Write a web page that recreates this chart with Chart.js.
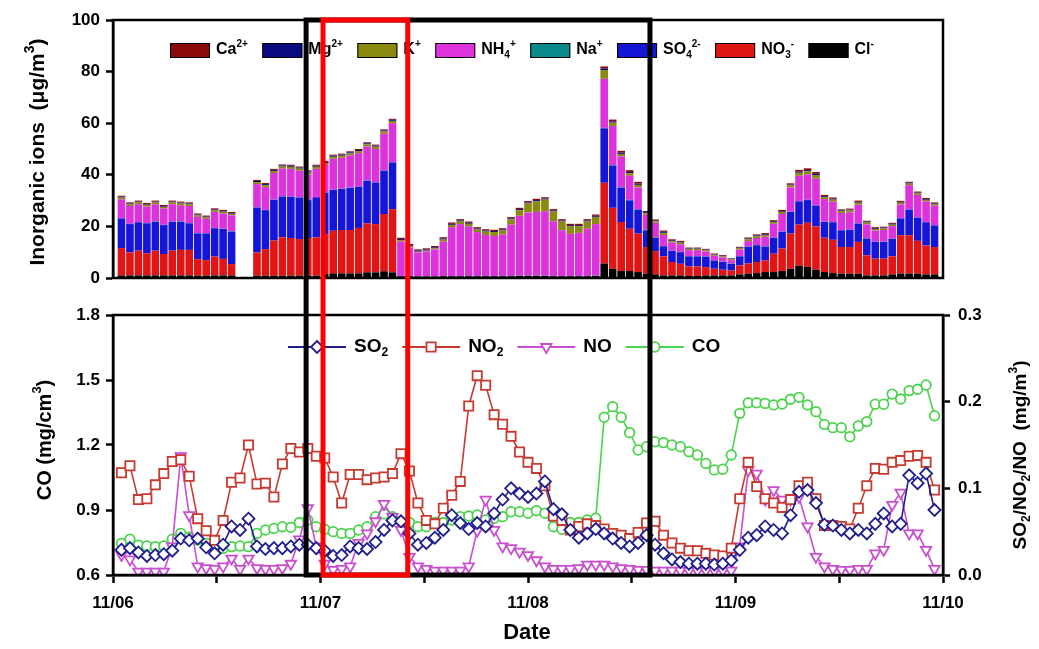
<!DOCTYPE html>
<html>
<head>
<meta charset="utf-8">
<script src="https://cdn.jsdelivr.net/npm/chart.js@4.4.0/dist/chart.umd.min.js"></script>
<style>
  html, body { margin: 0; padding: 0; background: #fff; }
  #wrap { position: relative; width: 1039px; height: 649px; }
  canvas { position: absolute; left: 0; }
  #ionChart { top: 0; }
  #gasChart { top: 296px; }
</style>
</head>
<body>
<div id="wrap">
  <canvas id="ionChart" width="1039" height="296"></canvas>
  <canvas id="gasChart" width="1039" height="353"></canvas>
</div>
<script>
// hourly samples, 11/06 00:00 .. 11/10 00:00
const dateLabels = ["11/06", "11/07", "11/08", "11/09", "11/10"];

// ions, stacked bottom -> top (ug/m3)
const ionLabels = ["Cl⁻", "NO₃⁻", "SO₄²⁻", "Na⁺", "NH₄⁺", "K⁺", "Mg²⁺", "Ca²⁺"];

const cl = [1.0,1.0,1.0,1.0,1.0,1.0,1.0,1.0,1.0,0.9,0.9,1.0,1.0,1.0, null,null,
  0.9,0.9,0.9,0.9,0.9,0.9,0.9,0.9,1.5,1.8,1.8,1.8,1.8,2.2,2.2,2.6,2.2,
  0.7,0.7,0.6,0.6,0.6,0.7,0.7,0.7,0.7,0.7,0.7,0.7,0.7,0.7,0.8,0.8,0.8,0.8,0.7,0.7,0.7,0.7,0.7,0.8,
  5.6,3.6,2.7,2.7,2.3,1.7,
  1.4,1.0,1.0,1.0,0.8,0.8,1.0,1.0,1.0,1.0,1.4,1.7,1.9,2.3,2.3,2.7,3.6,4.8,4.3,3.2,2.3,1.9,1.7,1.7,1.7,1.0,1.0,1.0,1.4,1.7,1.7,1.7,1.4,1.4];
const no3 = [10.6,8.9,9.6,8.6,9.6,8.3,9.6,9.9,9.9,6.4,6.0,7.3,6.4,4.4, null,null,
  9.0,10.3,13.6,14.9,14.6,14.2,14.6,14.9,15.5,16.5,16.8,16.8,17.6,19.0,18.7,22.2,24.5,
  0,0,0,0,0,0,0,0,0,0,0,0,0,0,0,0,0,0,0,0,0,0,0,0,
  31.3,23.6,19.0,16.4,14.9,10.3,
  9.0,7.4,5.2,4.5,3.7,3.7,3.2,2.6,2.2,1.9,3.5,3.9,4.3,4.5,7.1,8.7,13.6,15.9,17.1,16.8,13.3,12.9,10.3,10.3,12.3,7.8,6.5,6.5,7.0,14.9,14.9,12.7,11.2,10.6];
const so4 = [11.5,11.0,11.0,11.6,11.2,11.2,11.2,10.9,10.3,10.0,10.4,11.0,11.6,12.6, null,null,
  17.4,15.1,15.8,15.8,16.0,16.1,14.7,15.5,16.1,15.8,15.9,16.3,16.0,16.5,16.1,16.8,18.1,
  0,0,0,0,0,0,0,0,0,0,0,0,0,0,0,0,0,0,0,0,0,0,0,0,
  21.1,16.4,13.3,11.0,9.3,6.5,
  5.2,3.9,4.3,4.5,3.9,3.9,4.1,3.2,3.0,2.6,3.5,6.5,6.5,5.4,6.2,6.5,8.4,9.0,8.8,8.1,6.1,6.8,6.5,6.7,7.1,6.5,6.5,6.5,6.8,6.5,9.9,9.0,9.0,8.4];
const na = [0.1,0.1,0.1,0.1,0.1,0.1,0.1,0.1,0.1,0.1,0.1,0.1,0.1,0.1, null,null,
  0.1,0.1,0.1,0.1,0.1,0.1,0.1,0.1,0.1,0.1,0.1,0.1,0.1,0.1,0.1,0.1,0.1,
  0.1,0.1,0.1,0.1,0.1,0.1,0.1,0.1,0.1,0.1,0.1,0.1,0.1,0.1,0.1,0.1,0.1,0.1,0.1,0.1,0.1,0.1,0.1,0.1,
  0.2,0.2,0.2,0.2,0.2,0.2,
  0.1,0.1,0.1,0.1,0.1,0.1,0.1,0.1,0.1,0.1,0.1,0.1,0.1,0.1,0.1,0.1,0.1,0.1,0.1,0.1,0.1,0.1,0.1,0.1,0.1,0.1,0.1,0.1,0.1,0.1,0.1,0.1,0.1,0.1];
const nh4 = [7.3,6.9,6.9,6.4,6.7,6.3,6.7,6.3,6.6,6.3,5.5,6.2,5.9,6.2, null,null,
  9.0,8.8,10.3,10.7,10.7,10.3,9.8,10.9,10.6,12.0,12.0,12.5,12.9,13.2,12.9,14.2,15.1,
  13.4,11.1,9.2,9.6,10.4,13.3,18.9,20.1,19.2,17.0,15.9,15.5,16.1,19.9,23.2,24.5,24.7,25.0,21.2,17.7,16.3,16.7,18.3,20.0,
  19.0,15.1,11.9,9.3,8.4,5.8,
  5.7,4.3,3.1,3.0,2.3,2.3,1.9,1.7,1.7,1.3,2.6,2.1,2.7,3.7,5.3,6.8,9.4,9.8,9.9,10.3,8.8,7.9,6.6,6.7,7.2,5.4,4.3,4.5,4.8,5.3,9.4,8.7,8.0,7.6];
const k = [0.7,0.7,0.7,0.7,0.7,0.7,0.7,0.7,0.7,0.6,0.6,0.7,0.7,0.6, null,null,
  0.8,0.8,0.8,0.8,0.8,0.8,0.8,0.8,0.8,0.8,0.8,0.8,0.8,0.8,0.9,0.9,0.9,
  0.5,0.4,0.3,0.3,0.4,0.8,0.9,1.0,1.0,1.0,1.3,1.5,1.5,2.0,2.2,3.5,4.2,4.5,3.8,3.4,3.0,2.6,2.8,2.8,
  3.4,1.3,1.0,1.0,1.0,0.6,
  0.6,0.8,0.6,0.6,0.5,0.5,0.5,0.4,0.4,0.4,0.5,0.7,0.7,0.7,0.7,0.8,0.8,1.2,1.2,1.4,0.8,0.8,0.7,0.7,0.8,0.7,0.6,0.6,0.6,0.7,0.6,0.6,0.6,0.6];
const mg = [0.3,0.3,0.3,0.3,0.3,0.3,0.3,0.3,0.3,0.3,0.3,0.3,0.3,0.3, null,null,
  0.4,0.4,0.4,0.4,0.4,0.4,0.4,0.4,0.4,0.4,0.4,0.4,0.4,0.4,0.4,0.4,0.4,
  0.4,0.4,0.4,0.4,0.4,0.4,0.4,0.4,0.4,0.4,0.4,0.4,0.4,0.4,0.4,0.4,0.4,0.4,0.4,0.4,0.4,0.4,0.4,0.4,
  0.6,0.5,0.5,0.5,0.5,0.4,
  0.3,0.4,0.3,0.3,0.2,0.2,0.2,0.2,0.2,0.2,0.2,0.3,0.3,0.3,0.3,0.3,0.3,0.4,0.4,0.5,0.3,0.3,0.3,0.3,0.3,0.3,0.3,0.3,0.3,0.3,0.3,0.3,0.3,0.2];
const ca = [0.4,0.4,0.4,0.4,0.4,0.4,0.4,0.4,0.4,0.4,0.4,0.4,0.4,0.4, null,null,
  0.4,0.4,0.4,0.4,0.4,0.4,0.4,0.4,0.4,0.4,0.4,0.4,0.4,0.4,0.4,0.4,0.4,
  0.5,0.5,0.5,0.5,0.5,0.5,0.5,0.5,0.5,0.5,0.5,0.5,0.5,0.5,0.5,0.5,0.5,0.5,0.5,0.5,0.5,0.5,0.5,0.5,
  0.8,0.7,0.7,0.7,0.7,0.5,
  0.4,0.5,0.4,0.4,0.3,0.3,0.3,0.3,0.3,0.2,0.3,0.4,0.4,0.4,0.4,0.5,0.5,0.7,0.7,0.7,0.5,0.5,0.4,0.4,0.5,0.4,0.4,0.4,0.4,0.4,0.4,0.4,0.4,0.4];

// gases: SO2/NO2/NO in mg/m3 (right axis), CO in mg/cm3 (left axis)
const gasLabels = ["SO₂", "NO₂", "NO", "CO"];

const so2 = [0.029,0.031,0.026,0.022,0.023,0.024,0.028,0.042,0.040,0.042,0.032,0.025,0.035,0.056,0.052,0.065,0.033,0.030,0.031,0.031,0.033,0.035,0.035,0.031,0.028,0.022,0.023,0.033,0.031,0.030,0.038,0.052,0.063,0.062,0.048,0.035,
  0.037,0.043,0.052,0.069,0.060,0.053,0.060,0.056,0.071,0.087,0.100,0.094,0.090,0.094,0.108,0.076,0.070,0.052,0.043,0.048,0.053,0.048,0.042,0.037,0.033,0.037,0.046,0.035,0.025,0.018,0.015,0.013,0.013,0.013,0.012,0.013,0.017,
  0.029,0.043,0.046,0.056,0.052,0.048,0.069,0.096,0.098,0.083,0.058,0.057,0.052,0.048,0.052,0.048,0.059,0.071,0.056,0.059,0.115,0.106,0.117,0.075];
const no2 = [0.118,0.126,0.087,0.088,0.104,0.117,0.131,0.133,0.114,0.065,0.051,0.040,0.063,0.107,0.112,0.150,0.105,0.106,0.090,0.128,0.146,0.142,0.146,0.137,0.135,0.113,0.083,0.116,0.116,0.110,0.112,0.113,0.117,0.140,0.120,0.083,
  0.063,0.059,0.077,0.092,0.108,0.195,0.230,0.219,0.185,0.174,0.160,0.142,0.130,0.123,0.103,0.068,0.063,0.052,0.056,0.059,0.057,0.053,0.048,0.046,0.042,0.049,0.060,0.062,0.046,0.037,0.031,0.028,0.028,
  0.025,0.023,0.022,0.031,0.088,0.130,0.102,0.088,0.083,0.078,0.087,0.103,0.107,0.088,0.057,0.057,0.056,0.053,0.077,0.103,0.123,0.122,0.130,0.132,0.137,0.138,0.130,0.098];
const no = [0.023,0.018,0.004,0.004,0.004,0.004,0.033,0.137,0.069,0.010,0.008,0.007,0.010,0.019,0.007,0.019,0.008,0.007,0.007,0.008,0.013,0.041,0.077,0.033,0.013,0.006,0.007,0.010,0.037,0.048,0.062,0.082,0.067,0.052,0.021,0.010,
  0.007,0.005,0.005,0.005,0.005,0.010,0.051,0.087,0.052,0.033,0.031,0.027,0.023,0.017,0.010,0.007,0.007,0.007,0.008,0.012,0.012,0.012,0.010,0.008,0.007,0.006,0.006,0.005,0.005,0.005,0.005,0.005,0.005,0.005,0.005,0.005,0.005,
  0.033,0.121,0.117,0.087,0.098,0.087,0.087,0.090,0.056,0.021,0.010,0.007,0.006,0.006,0.007,0.007,0.025,0.029,0.081,0.095,0.048,0.048,0.029,0.007];
const co = [0.746,0.765,0.738,0.734,0.731,0.734,0.765,0.792,0.774,0.762,0.746,0.723,0.723,0.731,0.734,0.731,0.792,0.808,0.815,0.823,0.820,0.842,0.854,0.823,0.811,0.800,0.792,0.792,0.808,0.823,0.869,0.882,0.869,0.846,0.842,0.823,
  0.823,0.842,0.842,0.854,0.869,0.872,0.877,0.854,0.862,0.869,0.892,0.892,0.885,0.897,0.885,0.823,0.811,0.842,0.842,0.854,0.862,1.328,1.377,1.328,1.257,1.177,1.192,1.215,1.211,1.200,1.192,1.169,1.154,
  1.115,1.085,1.088,1.154,1.346,1.395,1.395,1.392,1.385,1.389,1.411,1.420,1.385,1.354,1.295,1.280,1.280,1.238,1.288,1.308,1.388,1.388,1.435,1.412,1.451,1.457,1.477,1.335];

const FONT = "'Liberation Sans', Arial, sans-serif";
Chart.defaults.font.family = FONT;
Chart.defaults.font.weight = "bold";
Chart.defaults.font.size = 17;
Chart.defaults.color = "#000";

const hours = cl.map((_, i) => i);
const toXY = arr => arr.map((v, i) => ({ x: hours[i], y: v }));

// x range in sample units; one day spans 24.5 samples in the original figure
const xMin = -1, xMax = 97, dayStart = -1, dayLength = 24.5;
const dayTicks = Array.from({ length: 9 }, (_, i) => dayStart + i * dayLength / 2);

// highlighted periods (sample units)
const boxes = [
    { from: 21.8, to: 62.4, color: "#000" },
    { from: 23.8, to: 33.8, color: "#ff0000" }
];

const SUP = { "²": "2", "³": "3", "⁺": "+", "⁻": "-" };
const SUB = { "₂": "2", "₃": "3", "₄": "4" };

// draws text with unicode sub/superscripts rendered as small shifted runs
function drawRich(ctx, text, x, y, size, align) {
    const runs = [];
    for (const ch of text) {
        const kind = SUP[ch] ? "sup" : SUB[ch] ? "sub" : "base";
        const s = SUP[ch] || SUB[ch] || ch;
        const last = runs[runs.length - 1];
        if (last && last.kind === kind) last.s += s;
        else runs.push({ kind, s });
    }
    const small = Math.round(size * 0.65);
    let w = 0;
    runs.forEach(r => {
        r.font = "bold " + (r.kind === "base" ? size : small) + "px " + FONT;
        ctx.font = r.font;
        r.w = ctx.measureText(r.s).width;
        r.x = w;
        w += r.w;
    });
    const x0 = align === "center" ? x - w / 2 : x;
    ctx.textAlign = "left";
    ctx.textBaseline = "middle";
    runs.forEach(r => {
        ctx.font = r.font;
        const dy = r.kind === "sup" ? -size * 0.38 : r.kind === "sub" ? size * 0.3 : 0;
        ctx.fillText(r.s, x0 + r.x, y + dy);
    });
    return w;
}

const framePlugin = {
    id: "frame",
    afterDraw(chart) {
        const { ctx, chartArea: a } = chart;
        ctx.save();
        ctx.strokeStyle = "#000";
        ctx.lineWidth = 2.5;
        ctx.strokeRect(a.left, a.top, a.right - a.left, a.bottom - a.top);
        ctx.restore();
    }
};

function boxesPlugin(part) {
    return {
        id: "boxes",
        afterDraw(chart) {
            const { ctx, chartArea: a, scales: { x } } = chart;
            ctx.save();
            ctx.lineWidth = 5;
            boxes.forEach(b => {
                const l = x.getPixelForValue(b.from);
                const r = x.getPixelForValue(b.to);
                ctx.strokeStyle = b.color;
                if (part === "top") ctx.strokeRect(l, a.top, r - l, chart.height + 50);
                else ctx.strokeRect(l, -50, r - l, a.bottom + 50);
            });
            ctx.restore();
        }
    };
}

function titlesPlugin(items) {
    return {
        id: "titles",
        afterDraw(chart) {
            const { ctx } = chart;
            ctx.save();
            ctx.fillStyle = "#000";
            items.forEach(t => {
                ctx.save();
                ctx.translate(t.x, t.y);
                if (t.rotate) ctx.rotate(-Math.PI / 2);
                drawRich(ctx, t.text, 0, 0, t.size, "center");
                ctx.restore();
            });
            ctx.restore();
        }
    };
}

const ionLegend = {
    id: "ionLegend",
    afterDraw(chart) {
        const { ctx, chartArea } = chart;
        let x = chartArea.left + 57;
        const y = chartArea.top + 30;
        ctx.save();
        chart.data.datasets.slice().reverse().forEach(ds => {
            ctx.fillStyle = ds.backgroundColor;
            ctx.fillRect(x, y - 7, 40, 15);
            ctx.strokeStyle = "#000";
            ctx.lineWidth = 1;
            ctx.strokeRect(x + 0.5, y - 6.5, 39, 14);
            ctx.fillStyle = "#000";
            const w = drawRich(ctx, ds.label, x + 46, y, 16, "left");
            x += 46 + w + 14.5;
        });
        ctx.restore();
    }
};

const gasLegend = {
    id: "gasLegend",
    afterDraw(chart) {
        const { ctx, chartArea } = chart;
        let x = chartArea.left + 175;
        const y = chartArea.top + 32;
        ctx.save();
        chart.data.datasets.forEach(ds => {
            ctx.strokeStyle = ds.borderColor;
            ctx.lineWidth = 1.8;
            ctx.beginPath();
            ctx.moveTo(x, y);
            ctx.lineTo(x + 58, y);
            ctx.stroke();
            ctx.fillStyle = "#fff";
            ctx.lineWidth = ds.pointBorderWidth;
            Chart.helpers.drawPoint(ctx, {
                pointStyle: ds.pointStyle,
                radius: ds.pointRadius,
                rotation: ds.pointRotation || 0,
                borderWidth: ds.pointBorderWidth
            }, x + 29, y);
            ctx.fillStyle = "#000";
            const w = drawRich(ctx, ds.label, x + 66, y, 19, "left");
            x += 66 + w + 14;
        });
        ctx.restore();
    }
};

const ionSeries = [cl, no3, so4, na, nh4, k, mg, ca];
const ionColors = ["#000000", "#e01515", "#1515d5", "#0a8a8a", "#dd33dd", "#8a8a10", "#0a0a80", "#8b0a0a"];

new Chart(document.getElementById("ionChart"), {
    type: "bar",
    data: {
        datasets: ionSeries.map((s, i) => ({
            label: ionLabels[i],
            data: toXY(s),
            backgroundColor: ionColors[i],
            borderWidth: 0,
            barPercentage: 0.9,
            categoryPercentage: 1
        }))
    },
    options: {
        responsive: false,
        animation: false,
        layout: { padding: { top: 20, right: 96, bottom: 18, left: 0 } },
        plugins: { legend: { display: false }, tooltip: { enabled: false } },
        scales: {
            x: {
                type: "linear",
                min: xMin,
                max: xMax,
                offset: false,
                grace: 0,
                stacked: true,
                ticks: { display: false },
                grid: { display: false, offset: false },
                border: { display: false },
                afterFit: a => { a.height = 0; }
            },
            y: {
                stacked: true,
                min: 0,
                max: 100,
                ticks: { stepSize: 20, padding: 6 },
                grid: { drawOnChartArea: false, tickLength: 7, tickWidth: 2.5, tickColor: "#000" },
                border: { color: "#000", width: 2.5 },
                afterFit: a => { a.width = 113; }
            }
        }
    },
    plugins: [
        framePlugin,
        ionLegend,
        boxesPlugin("top"),
        titlesPlugin([{ text: "Inorganic ions  (μg/m³)", x: 38, y: 152, size: 21, rotate: true }])
    ]
});

new Chart(document.getElementById("gasChart"), {
    type: "line",
    data: {
        datasets: [
            { label: gasLabels[0], data: toXY(so2), yAxisID: "y2", borderColor: "#1f1f8f", pointStyle: "rectRot", pointRadius: 6 },
            { label: gasLabels[1], data: toXY(no2), yAxisID: "y2", borderColor: "#c83a30", pointStyle: "rect", pointRadius: 6.5 },
            { label: gasLabels[2], data: toXY(no), yAxisID: "y2", borderColor: "#c94fd0", pointStyle: "triangle", pointRotation: 180, pointRadius: 6 },
            { label: gasLabels[3], data: toXY(co), yAxisID: "y", borderColor: "#4bd34b", pointStyle: "circle", pointRadius: 4.8 }
        ].map(ds => Object.assign(ds, {
            borderWidth: 1.6,
            pointBorderWidth: 1.8,
            pointBackgroundColor: "#fff",
            pointBorderColor: ds.borderColor,
            tension: 0
        }))
    },
    options: {
        responsive: false,
        animation: false,
        layout: { padding: { top: 19, right: 0, bottom: 0, left: 0 } },
        plugins: { legend: { display: false }, tooltip: { enabled: false } },
        scales: {
            x: {
                type: "linear",
                min: xMin,
                max: xMax,
                afterBuildTicks: a => { a.ticks = dayTicks.map(v => ({ value: v })); },
                ticks: {
                    autoSkip: false,
                    maxRotation: 0,
                    padding: 10,
                    callback: (v, i) => (i % 2 ? "" : dateLabels[i / 2])
                },
                grid: { drawOnChartArea: false, tickLength: 8, tickWidth: 2.5, tickColor: "#000" },
                border: { color: "#000", width: 2.5 },
                afterFit: a => { a.height = 74; }
            },
            y: {
                position: "left",
                min: 0.6,
                max: 1.8,
                ticks: { stepSize: 0.3, padding: 6, callback: v => v.toFixed(1) },
                grid: { drawOnChartArea: false, tickLength: 7, tickWidth: 2.5, tickColor: "#000" },
                border: { color: "#000", width: 2.5 },
                afterFit: a => { a.width = 113; }
            },
            y2: {
                position: "right",
                min: 0,
                max: 0.3,
                ticks: { stepSize: 0.1, padding: 8, callback: v => v.toFixed(1) },
                grid: { drawOnChartArea: false, tickLength: 7, tickWidth: 2.5, tickColor: "#000" },
                border: { color: "#000", width: 2.5 },
                afterFit: a => { a.width = 96; }
            }
        }
    },
    plugins: [
        framePlugin,
        gasLegend,
        boxesPlugin("bottom"),
        titlesPlugin([
            { text: "CO (mg/cm³)", x: 45, y: 144, size: 20, rotate: true },
            { text: "SO₂/NO₂/NO  (mg/m³)", x: 1021, y: 159, size: 19, rotate: true },
            { text: "Date", x: 527, y: 337, size: 22, rotate: false }
        ])
    ]
});
</script>
</body>
</html>
